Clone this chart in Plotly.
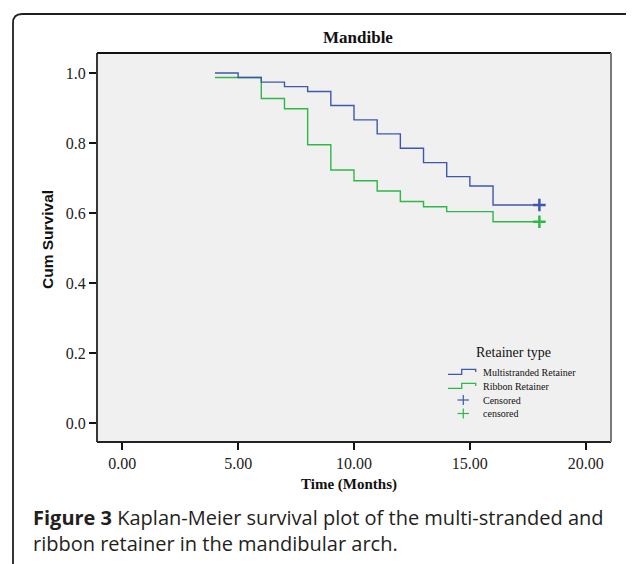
import plotly.graph_objects as go

# ---- data ----
multi_time = [4, 5, 6, 7, 8, 9, 10, 11, 12, 13, 14, 15, 16, 18]
multi_surv = [1.0, 0.987, 0.974, 0.961, 0.947, 0.907, 0.866, 0.826, 0.785, 0.744, 0.704, 0.677, 0.623, 0.623]
ribbon_time = [4, 6, 7, 8, 9, 10, 11, 12, 13, 14, 16, 18]
ribbon_surv = [0.987, 0.927, 0.898, 0.795, 0.723, 0.692, 0.663, 0.633, 0.618, 0.604, 0.575, 0.575]
censor_time = [18]
multi_censor = [0.623]
ribbon_censor = [0.575]
x_ticks = [0, 5, 10, 15, 20]
y_ticks = [0.0, 0.2, 0.4, 0.6, 0.8, 1.0]
legend_labels = ["Multistranded Retainer", "Ribbon Retainer", "Censored", "censored"]

BLUE = "#3E58AC"
GREEN = "#2EB848"
SERIF = "Liberation Serif"

OFF = 8  # page body margin
W, H = 634 - OFF, 564 - OFF
L, R, T, B = 97, 611, 53, 442  # plot area in page pixels


def px(X):
    return (X - L) / (R - L)


def py(Y):
    return (B - Y) / (B - T)


fig = go.Figure()
fig.add_trace(go.Scatter(x=ribbon_time, y=ribbon_surv, mode="lines", line_shape="hv",
                         line=dict(color=GREEN, width=1.4), showlegend=False, hoverinfo="skip"))
fig.add_trace(go.Scatter(x=multi_time, y=multi_surv, mode="lines", line_shape="hv",
                         line=dict(color=BLUE, width=1.4), showlegend=False, hoverinfo="skip"))
fig.add_trace(go.Scatter(x=censor_time, y=multi_censor, mode="markers",
                         marker=dict(symbol="cross-thin", size=9, line=dict(color=BLUE, width=2.5)),
                         showlegend=False, hoverinfo="skip"))
fig.add_trace(go.Scatter(x=censor_time, y=ribbon_censor, mode="markers",
                         marker=dict(symbol="cross-thin", size=9, line=dict(color=GREEN, width=2.5)),
                         showlegend=False, hoverinfo="skip"))

shapes = []
# outer rounded frame
fx0, fy0, fx1, fy1, r = 13, 14, 635, 600, 9
path = (f"M {px(fx0)},{py(fy1)} L {px(fx0)},{py(fy0 + r)} "
        f"Q {px(fx0)},{py(fy0)} {px(fx0 + r)},{py(fy0)} "
        f"L {px(fx1 - r)},{py(fy0)} Q {px(fx1)},{py(fy0)} {px(fx1)},{py(fy0 + r)} "
        f"L {px(fx1)},{py(fy1)}")
shapes.append(dict(type="path", xref="paper", yref="paper", path=path,
                   line=dict(color="#231f20", width=1.8)))
# plot box
shapes.append(dict(type="line", xref="paper", yref="paper", x0=0, x1=1, y0=1, y1=1,
                   line=dict(color="#111", width=1.8)))
shapes.append(dict(type="line", xref="paper", yref="paper", x0=0, x1=0, y0=0, y1=1,
                   line=dict(color="#222", width=1.8)))
shapes.append(dict(type="line", xref="paper", yref="paper", x0=0, x1=1, y0=0, y1=0,
                   line=dict(color="#222", width=1.8)))
shapes.append(dict(type="line", xref="paper", yref="paper", x0=1, x1=1, y0=0, y1=1,
                   line=dict(color="#7a7a7a", width=2)))

# legend symbols
rows = [372, 386, 400, 413.5]
for color, yc in [(BLUE, rows[0]), (GREEN, rows[1])]:
    lo, hi = yc + 2.3, yc - 2.7
    p = (f"M {px(448)},{py(lo)} L {px(461.7)},{py(lo)} L {px(461.7)},{py(hi)} "
         f"L {px(475.7)},{py(hi)} L {px(475.7)},{py(yc)}")
    shapes.append(dict(type="path", xref="paper", yref="paper", path=p,
                       line=dict(color=color, width=1.3)))
for color, yc in [(BLUE, rows[2]), (GREEN, rows[3])]:
    shapes.append(dict(type="line", xref="paper", yref="paper", x0=px(457.5), x1=px(469),
                       y0=py(yc), y1=py(yc), line=dict(color=color, width=1.2)))
    shapes.append(dict(type="line", xref="paper", yref="paper", x0=px(463.3), x1=px(463.3),
                       y0=py(yc - 5), y1=py(yc + 5), line=dict(color=color, width=1.2)))

ann = []
ann.append(dict(text="<b>Mandible</b>", x=px(358), y=py(38), xref="paper", yref="paper",
                showarrow=False, xanchor="center", yanchor="middle",
                font=dict(family=SERIF, size=17, color="#111")))
ann.append(dict(text="<b>Time (Months)</b>", x=px(349), y=py(484), xref="paper", yref="paper",
                showarrow=False, xanchor="center", yanchor="middle",
                font=dict(family=SERIF, size=15, color="#111")))
ann.append(dict(text="<b>Cum Survival</b>", x=px(47), y=py(240), xref="paper", yref="paper",
                showarrow=False, xanchor="center", yanchor="middle", textangle=-90,
                font=dict(family="Liberation Sans", size=15.5, color="#111")))
ann.append(dict(text="Retainer type", x=px(513), y=py(352), xref="paper", yref="paper",
                showarrow=False, xanchor="center", yanchor="middle",
                font=dict(family=SERIF, size=14, color="#111")))
for lab, yc in zip(legend_labels, rows):
    ann.append(dict(text=lab, x=px(481), y=py(yc), xref="paper", yref="paper",
                    showarrow=False, xanchor="left", yanchor="middle",
                    font=dict(family=SERIF, size=10, color="#111")))
ann.append(dict(text="<b>Figure 3</b> Kaplan-Meier survival plot of the multi-stranded and"
                     "<br>ribbon retainer in the mandibular arch.",
                x=px(31), y=py(530), xref="paper", yref="paper", showarrow=False,
                xanchor="left", yanchor="middle", align="left",
                font=dict(family="Open Sans", size=20, color="#231f20")))

fig.update_layout(
    width=W, height=H,
    margin=dict(l=L - OFF, r=634 - R, t=T - OFF, b=564 - B, pad=0),
    paper_bgcolor="white", plot_bgcolor="#F0F0F0",
    shapes=shapes, annotations=ann, showlegend=False,
    xaxis=dict(range=[-1.09, 21.09], tickvals=x_ticks, tickformat=".2f",
               ticks="outside", ticklen=7, tickwidth=1.5, tickcolor="#111",
               showgrid=False, zeroline=False, showline=False,
               tickfont=dict(family=SERIF, size=16, color="#222")),
    yaxis=dict(range=[-0.0543, 1.0571], tickvals=y_ticks, tickformat=".1f",
               ticks="outside", ticklen=7, tickwidth=1.5, tickcolor="#111",
               showgrid=False, zeroline=False, showline=False,
               tickfont=dict(family=SERIF, size=16, color="#222")),
)

fig.write_html("out.html")
